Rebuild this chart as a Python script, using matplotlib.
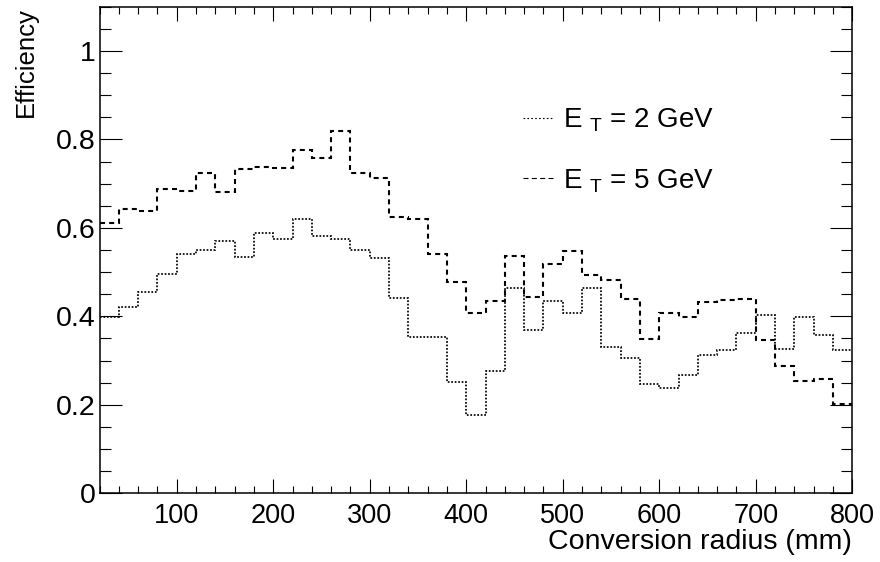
import numpy as np
import matplotlib
matplotlib.use('Agg')
import matplotlib.pyplot as plt
from matplotlib.lines import Line2D
from matplotlib.ticker import MultipleLocator

plt.rcParams['font.family'] = ['Liberation Sans', 'DejaVu Sans']
plt.rcParams['mathtext.fontset'] = 'custom'
plt.rcParams['mathtext.rm'] = 'Liberation Sans'

# bin edges of the histograms (mm)
edges = np.arange(20, 820, 20)

# efficiency per bin, E_T = 2 GeV (dotted)
eff_2gev = [0.398, 0.422, 0.454, 0.495, 0.541, 0.550, 0.571, 0.535, 0.589, 0.575,
            0.620, 0.582, 0.576, 0.550, 0.533, 0.442, 0.354, 0.354, 0.251, 0.178,
            0.277, 0.465, 0.370, 0.435, 0.408, 0.464, 0.331, 0.305, 0.248, 0.239,
            0.267, 0.312, 0.325, 0.363, 0.403, 0.326, 0.399, 0.358, 0.325]

# efficiency per bin, E_T = 5 GeV (dashed)
eff_5gev = [0.610, 0.643, 0.638, 0.687, 0.684, 0.725, 0.680, 0.733, 0.738, 0.736,
            0.776, 0.757, 0.819, 0.725, 0.712, 0.624, 0.620, 0.542, 0.478, 0.407,
            0.434, 0.537, 0.444, 0.518, 0.548, 0.493, 0.483, 0.439, 0.348, 0.407,
            0.399, 0.433, 0.438, 0.440, 0.346, 0.288, 0.255, 0.259, 0.203]

labels = [r'E $_{\mathrm{T}}$ = 2 GeV', r'E $_{\mathrm{T}}$ = 5 GeV']

fig = plt.figure(figsize=(8.8, 5.62), dpi=100)
ax = fig.add_axes([0.1131, 0.1222, 0.8553, 0.8659])

ax.stairs(eff_2gev, edges, baseline=None, color='black', lw=1.25,
          linestyle=(0, (1, 1)))
ax.stairs(eff_5gev, edges, baseline=None, color='black', lw=1.5,
          linestyle=(0, (2.4, 2.0)))

ax.set_xlim(20, 800)
ax.set_ylim(0, 1.1)

ax.xaxis.set_major_locator(MultipleLocator(100))
ax.xaxis.set_minor_locator(MultipleLocator(20))
ax.yaxis.set_major_locator(MultipleLocator(0.2))
ax.yaxis.set_minor_locator(MultipleLocator(0.05))
ax.set_yticks([0, 0.2, 0.4, 0.6, 0.8, 1.0])
ax.set_yticklabels(['0', '0.2', '0.4', '0.6', '0.8', '1'])

ax.tick_params(which='both', direction='in', top=True, right=True, width=0.8)
ax.tick_params(axis='x', which='major', length=10, pad=7, labelsize=19.5)
ax.tick_params(axis='x', which='minor', length=5)
ax.tick_params(axis='y', which='major', length=16, pad=3, labelsize=20.5)
ax.tick_params(axis='y', which='minor', length=8)
for s in ax.spines.values():
    s.set_linewidth(1.1)

ax.set_xlabel('Conversion radius (mm)', fontsize=20.5, ha='right')
ax.xaxis.set_label_coords(1.0, -0.073)
ax.set_ylabel('Efficiency', fontsize=18.5, ha='right')
ax.yaxis.set_label_coords(-0.082, 1.0)

handles = [Line2D([], [], color='black', lw=0.8, linestyle=(0, (1.5, 2))),
           Line2D([], [], color='black', lw=0.8, linestyle=(0, (4.5, 3)))]
ax.legend(handles, labels, loc='upper left', bbox_to_anchor=(0.562, 0.795),
          frameon=False, fontsize=20, handlelength=1.12, handletextpad=0.32,
          labelspacing=1.17, borderpad=0, borderaxespad=0)

fig.savefig('out.png', dpi=100)
